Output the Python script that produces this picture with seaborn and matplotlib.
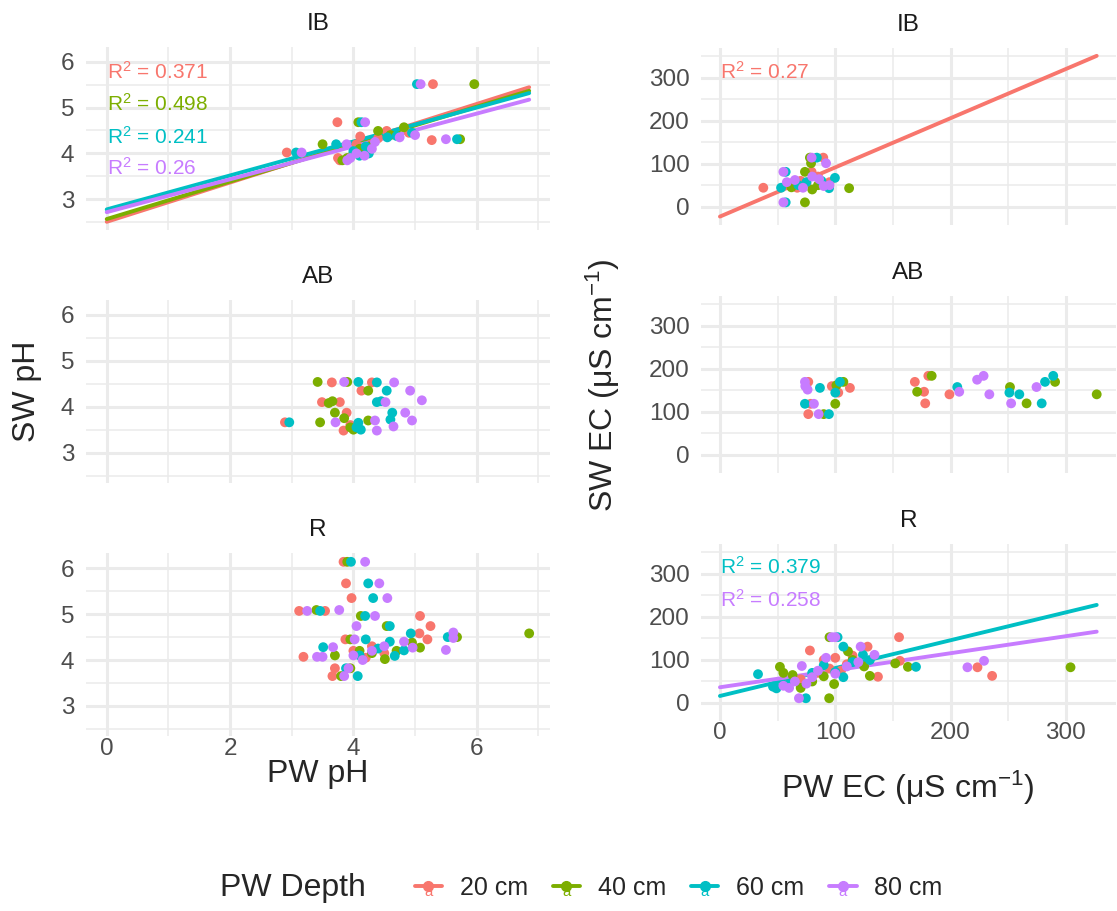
import matplotlib
matplotlib.use("Agg")
import pandas as pd
import matplotlib.pyplot as plt
import seaborn as sns
from matplotlib.lines import Line2D
from matplotlib.text import Text
from matplotlib.legend_handler import HandlerBase

depths = ["20 cm", "40 cm", "60 cm", "80 cm"]
colors = ["#F8766D", "#7CAE00", "#00BFC4", "#C77CFF"]
sites = ["IB", "AB", "R"]

# (PW, SW) pairs, one dict per panel
ph_ib = {
    "20 cm": [(2.92, 4.02), (3.74, 4.68), (3.75, 3.90), (3.78, 3.85), (4.11, 4.37), (4.05, 4.20), (4.30, 4.20),
              (4.54, 4.49), (4.40, 4.33), (4.90, 4.45), (5.27, 4.29), (5.29, 5.51), (4.20, 4.05)],
    "40 cm": [(3.50, 4.20), (3.82, 3.85), (3.90, 3.90), (4.08, 4.68), (4.40, 4.49), (4.10, 4.10), (4.25, 4.15),
              (4.82, 4.57), (4.60, 4.40), (5.73, 4.31), (5.96, 5.51), (4.00, 4.00)],
    "60 cm": [(3.07, 4.02), (3.72, 4.20), (4.13, 4.68), (4.10, 3.95), (4.20, 4.15), (4.25, 4.00), (4.55, 4.35),
              (4.70, 4.38), (4.95, 4.45), (5.03, 5.51), (5.68, 4.31), (4.00, 4.05)],
    "80 cm": [(3.16, 4.02), (3.89, 4.20), (3.90, 3.85), (4.05, 4.00), (4.19, 4.68), (4.18, 3.95), (4.30, 4.10),
              (4.35, 4.25), (4.75, 4.35), (5.00, 4.40), (5.09, 5.51), (5.50, 4.31), (3.95, 3.90)],
}
ph_ab = {
    "20 cm": [(2.89, 3.66), (3.65, 4.53), (3.49, 4.10), (3.78, 4.10), (3.89, 3.87), (3.84, 3.48), (4.13, 4.35),
              (4.30, 4.53), (3.95, 3.60)],
    "40 cm": [(3.42, 4.54), (3.46, 3.66), (3.60, 4.08), (3.66, 4.12), (3.70, 3.87), (3.90, 4.54), (3.95, 3.55),
              (4.00, 3.50), (4.24, 4.35), (4.24, 3.70), (3.85, 3.75)],
    "60 cm": [(2.96, 3.66), (4.08, 4.54), (4.38, 4.53), (4.54, 4.35), (4.38, 4.10), (4.63, 3.87), (4.60, 3.72),
              (4.08, 3.65), (4.12, 3.50), (4.05, 3.55), (4.45, 4.12)],
    "80 cm": [(3.85, 4.54), (3.71, 3.66), (4.66, 4.53), (4.92, 4.35), (5.11, 4.14), (4.52, 4.10), (4.84, 3.87),
              (4.35, 3.70), (4.38, 3.48), (4.65, 3.57), (4.95, 3.70)],
}
ph_r = {
    "20 cm": [(3.84, 6.14), (3.88, 5.67), (3.97, 5.35), (3.12, 5.07), (3.54, 5.07), (5.08, 4.96), (5.25, 4.74),
              (5.07, 4.58), (5.20, 4.45), (3.87, 4.45), (3.19, 4.07), (3.70, 3.82), (3.66, 3.65), (4.00, 4.20),
              (4.30, 4.30), (4.50, 4.15), (4.20, 4.05)],
    "40 cm": [(3.90, 6.14), (3.40, 5.09), (4.12, 4.96), (4.54, 4.74), (4.95, 4.38), (5.68, 4.50), (6.85, 4.58),
              (3.70, 4.10), (3.95, 3.82), (3.80, 3.65), (4.51, 4.02), (5.08, 4.27), (4.10, 4.20), (4.30, 4.15),
              (3.95, 4.45), (4.70, 4.20)],
    "60 cm": [(3.96, 6.14), (4.24, 5.67), (4.32, 5.35), (3.46, 5.07), (4.19, 4.96), (4.59, 4.74), (4.93, 4.58),
              (5.53, 4.50), (4.20, 4.45), (3.51, 4.28), (3.88, 3.82), (4.07, 3.65), (4.59, 4.40), (4.67, 4.09),
              (4.82, 4.21), (4.40, 4.25), (4.10, 4.10)],
    "80 cm": [(4.19, 6.14), (4.42, 5.67), (4.55, 5.35), (3.25, 5.07), (3.77, 5.09), (4.35, 4.96), (4.05, 4.74),
              (4.02, 4.45), (5.62, 4.60), (5.62, 4.48), (5.50, 4.22), (3.41, 4.07), (3.50, 4.07), (3.67, 4.28),
              (3.92, 3.82), (3.85, 3.65), (4.96, 4.27), (4.82, 4.40), (4.30, 4.20), (4.00, 4.10), (4.50, 4.30),
              (4.15, 4.00)],
}
ec_ib = {
    "20 cm": [(37.6, 44), (60, 50), (70, 60), (79.5, 81), (89.6, 114), (85, 70), (95, 57), (67, 44), (75, 55)],
    "40 cm": [(73.7, 10), (79, 101), (112, 43), (73.7, 81), (65, 60), (85, 50), (80, 40), (62, 45), (78, 114)],
    "60 cm": [(57, 81), (57, 10), (84, 114), (99.7, 67), (94.6, 43), (53, 44), (75, 57), (88, 60), (68, 50)],
    "80 cm": [(55, 81), (55, 10), (79.5, 114), (92, 101), (58, 57), (72, 44), (86, 64), (95, 50), (65, 62),
              (80, 70), (90, 48)],
}
ec_ab = {
    "20 cm": [(76.6, 170), (102.6, 145), (97, 160), (112.7, 156), (78.6, 119), (76.6, 95), (169, 170),
              (180.7, 184), (177, 147), (178, 120), (199, 141)],
    "40 cm": [(101, 162), (107, 170), (100, 119), (90, 95), (171, 147), (183.6, 184), (251.5, 158), (265.9, 120),
              (290.6, 170), (326.7, 141)],
    "60 cm": [(86.7, 156), (104, 170), (100, 145), (73.7, 119), (94.5, 95), (205.8, 158), (251, 145),
              (259.6, 141), (279, 120), (281.9, 170), (289, 184)],
    "80 cm": [(73.7, 170), (74, 160), (76, 152), (81.5, 119), (85.6, 95), (207.5, 147), (223, 175), (228.6, 184),
              (233.6, 141), (252.5, 120), (274.5, 158)],
}
ec_r = {
    "20 cm": [(78, 122), (90, 100), (100, 105), (128, 131), (155.3, 153), (156, 98), (137, 61), (223.3, 83),
              (236, 63), (60, 45), (85, 70), (110, 90), (95, 80), (70, 55), (115, 110), (105, 75)],
    "40 cm": [(52, 84), (55, 70), (63, 65), (94.7, 11), (95, 153), (99, 44), (111, 120), (130, 63), (125, 85),
              (152, 92), (163, 84), (304, 83), (80, 50), (70, 35), (115, 100), (90, 62)],
    "60 cm": [(33, 67), (46, 38), (49, 34), (74.5, 11), (102, 153), (107, 131), (107, 60), (124, 112), (170, 84),
              (80, 70), (90, 88), (60, 45), (115, 95), (100, 72), (130, 100)],
    "80 cm": [(68.5, 11), (71, 86), (97, 153), (100, 153), (92, 105), (122, 131), (134, 112), (214.6, 83),
              (229, 98), (55, 40), (65, 50), (80, 60), (85, 75), (110, 85), (120, 95), (60, 35), (75, 45),
              (100, 68)],
}

# fitted lines: (intercept, slope)
ph_fits = {
    "IB": {"20 cm": (2.51, 0.428), "40 cm": (2.57, 0.408), "60 cm": (2.78, 0.370), "80 cm": (2.72, 0.358)},
    "AB": {},
    "R": {},
}
ec_fits = {
    "IB": {"20 cm": (-23.0, 1.144)},
    "AB": {},
    "R": {"60 cm": (16.3, 0.648), "80 cm": (36.5, 0.396)},
}
# R^2 labels: (depth, text, y position in data units)
ph_r2 = {
    "IB": [("20 cm", "0.371", 5.78), ("40 cm", "0.498", 5.09), ("60 cm", "0.241", 4.37), ("80 cm", "0.26", 3.68)],
    "AB": [],
    "R": [],
}
ec_r2 = {
    "IB": [("20 cm", "0.27", 314)],
    "AB": [],
    "R": [("60 cm", "0.379", 317), ("80 cm", "0.258", 240)],
}


def to_frame(panel):
    rows = []
    for d in depths:
        for x, y in panel[d]:
            rows.append({"pw": x, "sw": y, "depth": d})
    return pd.DataFrame(rows)


def fit_frame(fits, x_max):
    rows = []
    for d, (b0, b1) in fits.items():
        for x in (0.0, x_max):
            rows.append({"pw": x, "sw": b0 + b1 * x, "depth": d})
    return pd.DataFrame(rows)


class DepthKey(HandlerBase):
    def create_artists(self, legend, orig_handle, xdescent, ydescent, width, height, fontsize, trans):
        c = orig_handle.get_color()
        x0 = -xdescent
        y0 = height / 2 - ydescent
        line = Line2D([x0, x0 + width], [y0, y0], color=c, lw=2.8, transform=trans)
        dot = Line2D([x0 + width / 2], [y0], marker="o", ms=7, lw=0, color=c, transform=trans)
        glyph = Text(x0 + width / 2, y0 - 4, "a", color=c, ha="center", va="center",
                     fontsize=fontsize * 0.6, transform=trans)
        return [line, dot, glyph]


sns.set_theme(style="white")
plt.rcParams["font.family"] = ["Liberation Sans", "DejaVu Sans"]
plt.rcParams["mathtext.fontset"] = "custom"
plt.rcParams["mathtext.rm"] = "Liberation Sans"
plt.rcParams["mathtext.it"] = "Liberation Sans:italic"

W, H = 1117, 911
fig = plt.figure(figsize=(W / 100, H / 100), dpi=100)
pal = dict(zip(depths, colors))


def add_axes(left, right, top, bottom):
    return fig.add_axes([left / W, 1 - bottom / H, (right - left) / W, (bottom - top) / H])


columns = [
    dict(panels=[ph_ib, ph_ab, ph_r], fits=ph_fits, r2=ph_r2, left=85.6, right=550.3,
         tops=[46.5, 299.8, 553.1], height=183.1, ylim=(2.34, 6.33), xlim=(-0.3425, 7.1925),
         xmaj=[0, 2, 4, 6], xmin=[1, 3, 5, 7], ymaj=[3, 4, 5, 6], ymin=[2.5, 3.5, 4.5, 5.5]),
    dict(panels=[ec_ib, ec_ab, ec_r], fits=ec_fits, r2=ec_r2, left=701.1, right=1115.9,
         tops=[47.7, 296.0, 544.0], height=176.9, ylim=(-41.7, 369.7), xlim=(-16.35, 343.35),
         xmaj=[0, 100, 200, 300], xmin=[50, 150, 250], ymaj=[0, 100, 200, 300], ymin=[50, 150, 250, 350]),
]

for col in columns:
    frames = [to_frame(p) for p in col["panels"]]
    x_max = max(f["pw"].max() for f in frames)
    for i, (site, df) in enumerate(zip(sites, frames)):
        top = col["tops"][i]
        ax = add_axes(col["left"], col["right"], top, top + col["height"])
        ax.set_xlim(col["xlim"])
        ax.set_ylim(col["ylim"])
        ax.set_xticks(col["xmaj"])
        ax.set_xticks(col["xmin"], minor=True)
        ax.set_yticks(col["ymaj"])
        ax.set_yticks(col["ymin"], minor=True)
        ax.grid(which="major", color="#EBEBEB", lw=2.2)
        ax.grid(which="minor", color="#EBEBEB", lw=1.1)
        ax.set_axisbelow(True)
        for s in ax.spines.values():
            s.set_visible(False)
        ax.tick_params(which="both", length=0, labelsize=17.5, labelcolor="#4D4D4D")
        ax.tick_params(axis="y", pad=8)
        ax.tick_params(axis="x", pad=1)
        if i < 2:
            ax.tick_params(axis="x", labelbottom=False)

        fits = col["fits"][site]
        if fits:
            sns.lineplot(data=fit_frame(fits, x_max), x="pw", y="sw", hue="depth", palette=pal,
                         lw=2.8, legend=False, ax=ax, zorder=2)
        sns.scatterplot(data=df, x="pw", y="sw", hue="depth", palette=pal, s=50,
                        linewidth=0, legend=False, ax=ax, zorder=3)
        for d, txt, ypos in col["r2"][site]:
            ax.text(0, ypos, f"R$^2$ = {txt}", color=pal[d], fontsize=15, ha="left", va="center")
        ax.set_xlabel("")
        ax.set_ylabel("")
        ax.set_title(site, fontsize=17.5, color="#1A1A1A", pad=12)

fig.text(27 / W, 1 - 391 / H, "SW pH", rotation=90, fontsize=23, ha="center", va="center")
fig.text(603 / W, 1 - 385 / H, "SW EC (μS cm$^{-1}$)", rotation=90, fontsize=23, ha="center", va="center")
fig.text(318 / W, 1 - 774 / H, "PW pH", fontsize=23, ha="center", va="center")
fig.text(908 / W, 1 - 788 / H, "PW EC (μS cm$^{-1}$)", fontsize=23, ha="center", va="center")

fig.text(220 / W, 1 - 888 / H, "PW Depth", fontsize=23, ha="left", va="center")
handles = [Line2D([], [], color=c) for c in colors]
fig.legend(handles, depths, handler_map={Line2D: DepthKey()}, ncol=4, loc="center left",
           bbox_to_anchor=(392 / W, 1 - 888 / H), frameon=False, fontsize=18,
           handlelength=1.1, columnspacing=1.0, handletextpad=0.7)

fig.savefig("out.png", dpi=100)
